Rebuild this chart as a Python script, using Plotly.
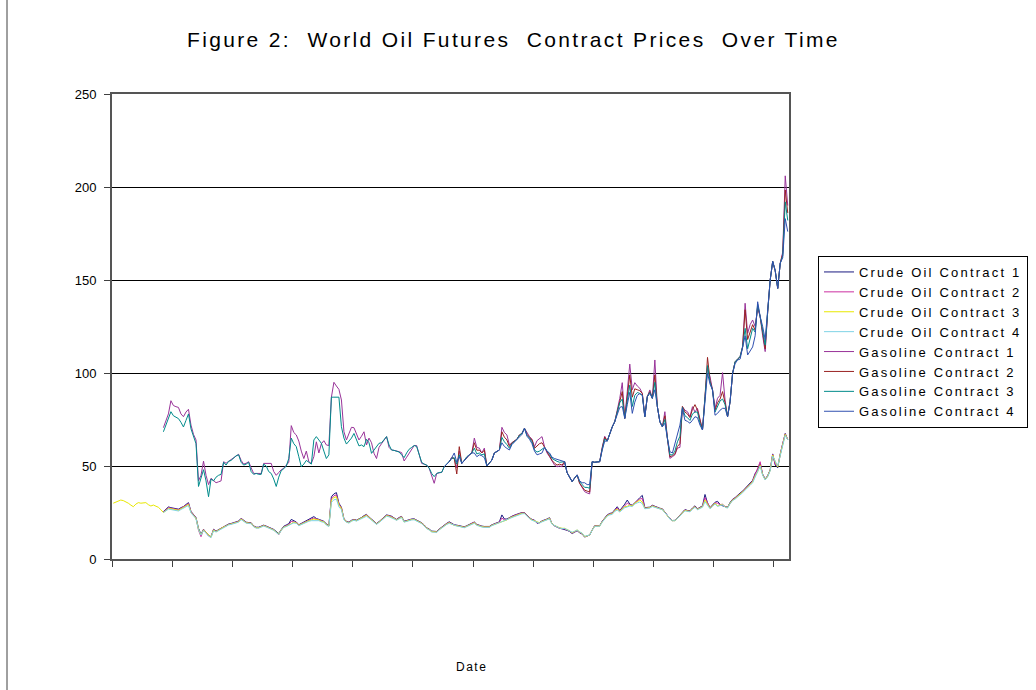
import plotly.graph_objects as go

# ---------------- data (monthly contract prices, category index 0..269) ----------------
months = list(range(270))

crude_3 = [
    30.0, 30.5, 31.2, 31.7, 31.4, 30.8, 30.0, 29.0, 28.1, 29.5,
    30.3, 30.0, 30.0, 30.3, 29.2, 28.5, 29.0, 28.4, 27.8, 26.5,
    25.0, 26.0, 27.2, 27.0, 26.7, 26.5, 26.2, 27.0, 27.6, 28.5,
    29.4, 25.0, 23.5, 21.9, 16.0, 12.9, 15.6, 14.3, 12.5, 11.7,
    15.6, 14.7, 15.5, 16.5, 17.2, 17.7, 18.5, 18.8, 19.2, 19.6,
    20.0, 21.5, 20.5, 19.5, 19.3, 19.2, 17.5, 16.8, 16.8, 17.4,
    17.9, 17.4, 17.0, 16.2, 15.6, 14.5, 13.4, 15.5, 17.2, 17.6,
    18.1, 19.0, 19.8, 19.5, 18.1, 18.8, 19.5, 20.0, 20.6, 21.0,
    21.5, 21.2, 21.0, 20.3, 20.0, 18.5, 17.7, 31.7, 33.0, 33.5,
    29.0, 27.2, 21.3, 20.0, 19.5, 20.5, 21.0, 20.6, 21.2, 21.9,
    22.8, 23.5, 22.3, 21.0, 20.0, 18.8, 19.8, 21.0, 22.0, 23.3,
    23.0, 22.6, 21.8, 21.0, 22.0, 22.6, 20.0, 20.5, 21.0, 21.2,
    21.3, 20.6, 20.0, 19.2, 18.0, 16.5, 15.8, 14.7, 14.6, 14.5,
    15.8, 16.8, 18.2, 18.8, 19.5, 18.8, 18.1, 17.9, 17.7, 17.2,
    17.0, 17.6, 18.1, 19.0, 19.5, 18.3, 17.7, 17.4, 17.2, 17.0,
    17.2, 18.1, 18.6, 19.2, 19.6, 20.0, 20.8, 21.0, 22.0, 22.6,
    23.2, 23.7, 24.2, 24.6, 24.6, 23.0, 21.9, 21.0, 20.6, 19.8,
    19.5, 20.2, 20.6, 21.2, 21.9, 18.8, 18.0, 17.2, 16.8, 16.5,
    16.5, 15.8, 15.2, 14.1, 14.8, 15.6, 14.5, 13.8, 12.0, 12.5,
    12.9, 15.5, 17.7, 17.7, 17.7, 20.0, 21.8, 23.3, 24.0, 24.3,
    26.0, 26.8, 25.6, 27.0, 28.1, 28.3, 29.0, 28.5, 30.0, 30.8,
    31.7, 30.6, 27.2, 27.4, 27.6, 28.5, 28.0, 27.2, 27.0, 26.7,
    25.0, 23.7, 21.5, 20.6, 20.6, 21.8, 23.3, 24.8, 26.2, 25.8,
    25.6, 27.0, 28.1, 26.7, 27.5, 28.1, 31.7, 29.5, 27.2, 28.5,
    30.0, 28.5, 29.0, 29.4, 28.0, 27.6, 30.0, 31.7, 32.5, 33.5,
    35.0, 36.0, 37.5, 38.5, 40.0, 41.5, 44.6, 47.0, 50.5, 45.2,
    42.7, 44.5, 47.7, 55.9, 52.3, 49.5, 56.0, 62.0, 67.0, 64.0,
]

crude_1 = [
    25.5, 26.8, 28.0, 27.6, 27.2, 27.0, 26.8, 27.6, 28.2, 29.3,
    30.3, 25.6, 24.0, 22.3, 16.5, 13.3, 16.0, 14.6, 12.8, 12.0,
    16.0, 15.0, 15.8, 16.8, 17.5, 18.0, 18.8, 19.1, 19.5, 19.9,
    20.4, 21.9, 20.8, 19.8, 19.6, 19.5, 17.8, 17.1, 17.1, 17.7,
    18.2, 17.7, 17.3, 16.5, 15.9, 14.8, 13.7, 15.8, 17.6, 18.3,
    19.0, 21.3, 20.5, 19.9, 18.4, 19.1, 19.9, 20.5, 21.3, 22.0,
    22.8, 21.8, 21.4, 20.6, 20.3, 18.8, 18.0, 33.5, 35.0, 35.7,
    30.0, 27.8, 21.6, 20.3, 19.8, 20.8, 21.3, 20.9, 21.5, 22.3,
    23.3, 24.0, 22.6, 21.3, 20.3, 19.1, 20.1, 21.3, 22.3, 23.7,
    23.4, 23.0, 22.1, 21.3, 22.3, 22.9, 20.3, 20.8, 21.3, 21.5,
    21.6, 20.9, 20.3, 19.5, 18.3, 16.8, 16.1, 15.0, 14.9, 14.8,
    16.1, 17.1, 18.5, 19.2, 20.0, 19.1, 18.4, 18.2, 18.0, 17.5,
    17.3, 17.9, 18.5, 19.4, 19.9, 18.6, 18.0, 17.7, 17.5, 17.3,
    17.5, 18.4, 18.9, 19.5, 20.0, 23.7, 21.5, 21.5, 22.4, 23.0,
    23.6, 24.1, 24.6, 25.0, 25.0, 23.3, 22.2, 21.3, 20.9, 19.2,
    19.6, 20.5, 20.9, 21.5, 22.2, 18.9, 17.8, 17.0, 16.5, 16.2,
    16.0, 15.4, 14.8, 13.7, 14.4, 15.2, 14.1, 13.4, 11.8, 12.3,
    12.9, 15.6, 17.9, 17.9, 17.9, 20.3, 22.1, 23.7, 24.5, 24.8,
    26.5, 28.1, 26.0, 27.6, 29.5, 31.7, 29.5, 28.9, 30.5, 31.5,
    33.0, 34.2, 27.6, 27.7, 27.9, 28.9, 28.3, 27.5, 27.3, 27.0,
    25.3, 24.0, 21.7, 20.7, 20.8, 22.1, 23.6, 25.2, 26.6, 26.1,
    25.9, 27.4, 28.6, 27.0, 27.9, 28.6, 34.7, 30.2, 27.6, 28.9,
    30.5, 31.0, 29.4, 28.6, 28.2, 27.8, 30.4, 32.1, 33.0, 34.0,
    35.5, 36.5, 38.0, 39.0, 40.6, 42.3, 46.0, 48.0, 51.2, 45.6,
    43.0, 44.8, 48.0, 56.5, 50.5, 49.0, 56.5, 62.5, 67.5, 64.0,
]

crude_2 = [
    25.3, 26.5, 27.6, 27.3, 27.0, 26.8, 26.5, 27.3, 27.9, 28.9,
    29.8, 25.3, 23.8, 22.0, 15.5, 12.0, 15.8, 14.4, 12.4, 11.8,
    15.8, 14.8, 15.6, 16.6, 17.3, 17.8, 18.6, 18.9, 19.3, 19.7,
    20.2, 21.7, 20.6, 19.6, 19.4, 19.3, 17.6, 16.9, 16.9, 17.5,
    18.0, 17.5, 17.1, 16.3, 15.7, 14.4, 13.0, 15.6, 17.3, 17.9,
    18.5, 20.2, 20.1, 19.7, 18.2, 18.9, 19.7, 20.2, 20.9, 21.5,
    22.0, 21.5, 21.2, 20.4, 20.1, 18.6, 17.8, 32.6, 34.0, 34.5,
    29.5, 27.5, 21.4, 20.1, 19.6, 20.6, 21.1, 20.7, 21.3, 22.0,
    23.0, 23.7, 22.4, 21.1, 20.1, 18.9, 19.9, 21.1, 22.1, 23.5,
    23.2, 22.8, 21.9, 21.1, 22.1, 22.7, 20.1, 20.6, 21.1, 21.3,
    21.4, 20.7, 20.1, 19.3, 18.1, 16.6, 15.9, 14.8, 14.7, 14.6,
    15.9, 16.9, 18.3, 19.0, 19.7, 18.9, 18.2, 18.0, 17.8, 17.3,
    17.1, 17.7, 18.2, 19.2, 19.7, 18.4, 17.8, 17.5, 17.3, 17.1,
    17.3, 18.2, 18.7, 19.3, 19.8, 22.0, 21.0, 21.2, 22.2, 22.8,
    23.4, 23.9, 24.4, 24.8, 24.8, 23.1, 22.0, 21.1, 20.7, 19.5,
    19.5, 20.3, 20.7, 21.3, 22.0, 18.8, 17.9, 17.1, 16.6, 16.3,
    16.2, 15.6, 15.0, 13.9, 14.6, 15.4, 14.3, 13.6, 11.9, 12.4,
    12.9, 15.5, 17.8, 17.8, 17.8, 20.1, 21.9, 23.5, 24.2, 24.5,
    26.2, 27.5, 25.8, 27.3, 28.8, 30.0, 29.2, 28.7, 30.2, 31.1,
    32.3, 32.5, 27.4, 27.5, 27.7, 28.7, 28.1, 27.3, 27.1, 26.8,
    25.1, 23.8, 21.6, 20.6, 20.7, 21.9, 23.4, 24.9, 26.4, 25.9,
    25.7, 27.2, 28.3, 26.8, 27.7, 28.3, 33.0, 29.8, 27.4, 28.7,
    30.2, 30.0, 29.2, 29.5, 28.1, 27.7, 30.2, 31.9, 32.8, 33.8,
    35.2, 36.2, 37.8, 38.8, 40.3, 42.0, 45.5, 48.5, 52.3, 45.4,
    42.8, 44.6, 47.9, 56.2, 51.0, 49.8, 56.3, 62.2, 67.3, 64.2,
]

crude_4 = [
    25.0, 25.8, 26.8, 26.6, 26.4, 26.2, 25.8, 26.6, 27.2, 28.0,
    28.8, 24.8, 23.2, 21.6, 15.8, 12.8, 15.4, 14.0, 12.3, 11.5,
    15.2, 14.5, 15.3, 16.3, 17.0, 17.5, 18.3, 18.6, 19.0, 19.4,
    19.8, 21.2, 20.3, 19.3, 19.1, 19.0, 17.3, 16.6, 16.6, 17.2,
    17.7, 17.2, 16.8, 16.0, 15.4, 14.3, 13.2, 15.3, 17.0, 17.4,
    17.9, 18.8, 19.4, 19.2, 17.9, 18.6, 19.2, 19.7, 20.3, 20.6,
    20.6, 20.8, 20.6, 20.0, 19.7, 18.2, 17.5, 30.5, 31.8, 32.2,
    28.0, 26.5, 21.0, 19.8, 19.3, 20.3, 20.8, 20.4, 21.0, 21.6,
    22.3, 23.0, 22.0, 20.8, 19.8, 18.6, 19.6, 20.8, 21.8, 23.0,
    22.7, 22.3, 21.5, 20.8, 21.7, 22.3, 19.8, 20.3, 20.8, 21.0,
    21.1, 20.4, 19.8, 19.0, 17.8, 16.3, 15.6, 14.5, 14.4, 14.3,
    15.6, 16.6, 18.0, 18.6, 19.2, 18.6, 17.9, 17.7, 17.5, 17.0,
    16.8, 17.4, 17.9, 18.7, 19.2, 18.1, 17.5, 17.2, 17.0, 16.8,
    17.0, 17.9, 18.4, 19.0, 19.4, 19.8, 20.5, 20.8, 21.7, 22.3,
    22.9, 23.4, 23.9, 24.3, 24.4, 22.8, 21.7, 20.8, 20.4, 19.6,
    19.3, 20.0, 20.4, 21.0, 21.6, 18.7, 17.9, 17.1, 16.7, 16.4,
    16.4, 15.8, 15.3, 14.4, 14.9, 15.6, 14.6, 13.9, 12.2, 12.6,
    12.9, 15.4, 17.5, 17.6, 17.6, 19.8, 21.5, 23.0, 23.7, 24.0,
    25.6, 26.3, 25.3, 26.6, 27.6, 28.0, 28.5, 28.2, 29.6, 30.2,
    30.6, 29.8, 27.0, 27.2, 27.4, 28.2, 27.8, 27.0, 26.8, 26.5,
    24.8, 23.5, 21.4, 20.6, 20.6, 21.7, 23.1, 24.5, 25.9, 25.6,
    25.4, 26.7, 27.8, 26.5, 27.2, 27.8, 30.8, 29.0, 27.0, 28.2,
    29.6, 28.3, 28.8, 29.2, 27.8, 27.4, 29.7, 31.4, 32.2, 33.2,
    34.6, 35.6, 37.1, 38.1, 39.6, 41.0, 44.0, 46.4, 50.0, 45.0,
    42.5, 44.2, 47.4, 55.3, 52.3, 50.0, 55.5, 61.5, 66.5, 64.0,
]

gasoline_1 = [
    70.6, 74.0, 78.0, 85.1, 82.5, 81.9, 81.5, 78.0, 76.5, 79.0,
    80.5, 72.0, 67.0, 64.0, 42.0, 45.0, 52.6, 45.0, 40.0, 43.4,
    42.0, 41.0, 41.5, 42.0, 52.3, 51.5, 52.5, 53.5, 54.5, 55.5,
    56.3, 53.0, 51.0, 51.5, 52.3, 49.0, 46.0, 46.0, 46.0, 46.0,
    51.4, 51.4, 51.4, 51.4, 47.0, 45.0, 46.5, 48.0, 48.8, 50.5,
    52.0, 71.7, 68.0, 66.7, 63.4, 58.0, 54.0, 58.0, 52.3, 51.4,
    55.0, 63.0, 57.0, 62.0, 63.6, 61.3, 61.0, 87.0, 95.0, 93.0,
    91.2, 85.5, 68.4, 64.0, 67.5, 70.8, 70.6, 67.0, 64.0, 66.0,
    68.4, 61.3, 65.0, 62.5, 56.8, 54.0, 60.0, 62.0, 64.0, 65.8,
    60.0, 58.6, 58.4, 58.2, 57.7, 57.2, 52.7, 54.7, 56.8, 59.0,
    61.0, 61.0, 56.0, 51.4, 51.0, 50.5, 48.8, 45.0, 40.7, 46.0,
    46.3, 46.6, 49.6, 51.0, 52.3, 54.5, 54.0, 49.0, 58.0, 51.4,
    53.0, 55.0, 56.0, 57.0, 65.0, 60.0, 59.6, 57.0, 59.6, 50.0,
    51.5, 53.2, 57.0, 58.0, 58.6, 70.8, 68.0, 66.7, 61.3, 62.5,
    63.5, 64.4, 66.7, 67.5, 70.3, 68.0, 65.8, 64.4, 60.4, 63.6,
    64.5, 65.8, 60.4, 57.0, 55.0, 52.3, 50.5, 49.6, 50.0, 49.6,
    52.3, 46.4, 44.0, 41.6, 43.5, 45.2, 40.7, 38.0, 36.2, 35.5,
    35.0, 52.3, 52.0, 52.2, 52.3, 60.0, 66.0, 63.4, 67.5, 71.0,
    73.8, 80.0, 86.4, 94.8, 75.6, 90.0, 104.8, 91.0, 94.8, 93.0,
    91.8, 89.0, 76.5, 87.3, 90.9, 86.4, 107.0, 81.9, 73.8, 71.1,
    79.2, 65.0, 54.1, 55.0, 56.0, 59.6, 60.0, 81.9, 80.0, 79.2,
    76.5, 81.9, 79.0, 81.0, 74.7, 69.4, 87.3, 103.0, 98.0, 90.9,
    81.0, 86.4, 88.0, 100.2, 85.5, 76.5, 84.6, 99.8, 106.0, 107.5,
    108.8, 114.1, 137.5, 121.3, 126.0, 128.5, 125.0, 135.0, 130.3, 120.0,
    111.5, 133.0, 150.0, 160.0, 155.0, 145.5, 159.0, 165.0, 206.0, 190.0,
]

gasoline_2 = [
    49.6, 51.0, 52.3, 54.5, 54.0, 45.7, 60.4, 51.4,
    53.0, 55.0, 56.0, 57.0, 62.5, 58.5, 58.5, 57.0, 58.5, 50.0,
    51.5, 53.2, 57.0, 58.0, 58.6, 68.4, 65.5, 64.0, 60.5, 62.5,
    63.5, 64.4, 66.7, 67.5, 70.3, 67.0, 65.5, 64.0, 59.5, 61.0,
    62.0, 62.5, 60.2, 57.5, 55.5, 53.0, 51.5, 50.5, 51.0, 50.5,
    52.3, 46.4, 44.0, 41.6, 43.5, 45.2, 40.7, 38.5, 37.0, 36.5,
    36.0, 52.3, 52.0, 52.2, 52.3, 59.5, 65.5, 63.4, 67.5, 71.0,
    73.8, 79.5, 85.0, 90.0, 75.6, 88.0, 99.0, 87.0, 91.5, 91.0,
    90.5, 89.0, 76.5, 87.3, 90.0, 86.4, 99.0, 81.9, 73.8, 71.1,
    77.0, 65.0, 55.0, 55.5, 56.5, 60.5, 62.0, 82.0, 79.0, 78.0,
    76.0, 80.5, 83.0, 80.0, 74.0, 69.4, 87.3, 108.4, 96.0, 90.9,
    80.0, 84.0, 86.0, 90.0, 84.0, 76.5, 84.6, 99.8, 106.0, 107.5,
    108.8, 114.1, 134.0, 118.0, 122.0, 126.0, 123.0, 136.0, 130.3, 121.0,
    113.0, 133.0, 150.0, 160.0, 155.0, 145.5, 159.0, 164.0, 198.4, 186.0,
]

gasoline_3 = [
    68.4, 72.0, 76.0, 79.2, 77.0, 76.0, 75.5, 73.5, 71.0, 74.5,
    78.0, 70.0, 66.0, 62.0, 39.0, 44.0, 48.0, 42.0, 33.5, 43.0,
    42.0, 44.0, 45.0, 45.5, 52.0, 50.5, 52.5, 53.0, 54.5, 55.5,
    56.0, 52.0, 50.5, 51.0, 52.0, 47.0, 45.5, 46.0, 45.5, 45.5,
    51.0, 50.0, 47.0, 46.0, 43.0, 39.0, 44.0, 47.5, 48.5, 50.0,
    54.0, 65.0, 62.0, 60.4, 55.0, 49.6, 51.0, 53.0, 52.0, 51.0,
    64.0, 65.8, 64.0, 62.2, 58.0, 54.0, 56.0, 87.0, 87.0, 87.0,
    87.0, 71.1, 65.0, 61.8, 63.5, 65.0, 67.5, 64.0, 60.8, 61.3,
    60.4, 64.4, 62.5, 56.8, 58.6, 60.5, 62.2, 62.5, 64.0, 65.8,
    61.3, 58.6, 58.4, 58.0, 57.5, 56.0, 54.5, 57.0, 59.0, 60.0,
    61.0, 60.5, 56.0, 52.0, 51.0, 50.5, 48.8, 46.0, 44.3, 46.0,
    46.5, 46.6, 49.6, 51.0, 52.3, 54.0, 54.5, 51.0, 56.0, 51.4,
    53.0, 55.0, 56.0, 57.0, 59.6, 56.5, 57.0, 56.0, 56.5, 50.0,
    51.5, 53.2, 57.0, 58.0, 58.6, 65.4, 63.0, 61.5, 59.5, 62.0,
    63.5, 64.4, 66.5, 67.5, 70.3, 66.5, 65.0, 63.0, 58.6, 57.5,
    58.0, 59.0, 60.0, 58.0, 56.5, 54.0, 53.0, 52.5, 52.0, 52.0,
    52.3, 46.4, 44.0, 41.6, 43.5, 45.2, 41.5, 40.0, 38.5, 38.5,
    38.0, 52.3, 52.0, 52.2, 52.3, 59.0, 64.5, 63.4, 67.5, 71.0,
    73.8, 79.0, 84.0, 86.0, 75.6, 85.0, 93.5, 82.0, 88.0, 89.5,
    89.0, 88.0, 76.5, 87.3, 89.5, 86.4, 95.0, 81.9, 73.8, 71.1,
    75.0, 65.0, 56.0, 56.0, 58.0, 63.0, 66.0, 81.5, 77.0, 76.0,
    74.5, 78.0, 79.0, 79.0, 73.0, 69.4, 87.3, 104.0, 95.0, 90.9,
    79.0, 82.0, 85.0, 86.0, 83.0, 76.5, 84.6, 99.8, 106.0, 107.5,
    108.8, 114.1, 124.0, 113.0, 118.0, 124.0, 122.0, 137.0, 130.3, 123.0,
    115.0, 133.0, 150.0, 160.0, 155.0, 145.5, 159.0, 163.0, 192.0, 182.0,
]

gasoline_4 = [
    49.6, 51.0, 52.3, 54.5, 57.0, 52.0, 55.0, 51.4,
    53.0, 55.0, 56.0, 57.0, 57.0, 55.0, 56.0, 55.5, 54.5, 50.0,
    51.5, 53.2, 57.0, 58.0, 58.6, 62.5, 60.5, 59.5, 58.6, 61.5,
    63.0, 64.0, 66.0, 67.0, 70.3, 66.0, 64.4, 62.0, 58.0, 56.0,
    56.5, 57.0, 60.0, 58.0, 57.0, 54.7, 54.0, 53.6, 53.0, 52.5,
    52.3, 46.4, 44.0, 41.6, 43.5, 45.2, 42.0, 41.0, 41.0, 40.0,
    40.0, 52.3, 52.0, 52.2, 52.3, 58.5, 63.4, 63.4, 67.5, 71.0,
    73.8, 78.0, 81.5, 82.0, 75.6, 83.0, 89.6, 78.3, 84.3, 88.0,
    88.9, 88.0, 76.5, 87.3, 89.0, 86.4, 91.0, 81.9, 73.8, 71.1,
    73.0, 65.0, 57.7, 57.0, 62.0, 67.5, 72.0, 81.0, 74.6, 74.0,
    73.0, 74.6, 76.5, 76.0, 72.0, 69.4, 87.3, 100.0, 94.0, 90.9,
    77.3, 78.3, 80.0, 81.0, 81.0, 76.5, 84.6, 99.8, 105.0, 107.0,
    107.5, 113.0, 120.0, 109.7, 112.0, 114.0, 120.0, 138.3, 130.3, 125.0,
    118.0, 133.0, 150.0, 160.0, 155.0, 145.5, 159.0, 162.0, 183.0, 176.0,
]

series_names = [
    "Crude Oil Contract 1", "Crude Oil Contract 2", "Crude Oil Contract 3", "Crude Oil Contract 4",
    "Gasoline Contract 1", "Gasoline Contract 2", "Gasoline Contract 3", "Gasoline Contract 4",
]
y_ticks = [0, 50, 100, 150, 200, 250]
x_tick_bounds = [-0.5 + 24 * k for k in range(12)]

title_text = "Figure 2:\u00a0 World Oil Futures\u00a0 Contract Prices\u00a0 Over Time"
x_title = "Date"

# ---------------- figure ----------------
colors = ["#1a1a80", "#cc2fa0", "#e8e800", "#7fd3e6",
          "#993399", "#992222", "#008b8b", "#3050b0"]

series = [
    (months[20:], crude_1), (months[20:], crude_2), (months, crude_3), (months[20:], crude_4),
    (months[20:], gasoline_1), (months[132:], gasoline_2), (months[20:], gasoline_3), (months[132:], gasoline_4),
]


def spaced(text, ls):
    return '<span style="letter-spacing:%spx">%s</span>' % (ls, text)


fig = go.Figure()
for (xs, ys), name, c in zip(series, series_names, colors):
    fig.add_trace(go.Scatter(x=xs, y=ys, name=spaced(name, 2.2), mode="lines",
                             line=dict(color=c, width=1)))

W, H = 1036, 690
L, R, T, B = 112, 789, 94, 559  # plot area in page pixels


def px(xp):
    return (xp - L) / (R - L)


def py(yp):
    return (B - yp) / (B - T)


FONT = "Liberation Sans, Arial, sans-serif"

fig.update_layout(
    width=W, height=H, autosize=False,
    margin=dict(l=L, r=W - R, t=T, b=H - B, pad=0, autoexpand=False),
    paper_bgcolor="white", plot_bgcolor="white",
    font=dict(family=FONT, size=13, color="black"),
    showlegend=True,
    legend=dict(
        xref="container", yref="container",
        x=818 / W, y=1 - 256 / H, xanchor="left", yanchor="top",
        bordercolor="black", borderwidth=1, bgcolor="white",
        font=dict(family=FONT, size=13, color="black"),
        traceorder="normal", itemwidth=30,
    ),
    xaxis=dict(
        range=[-0.5, 269.5], showgrid=False, zeroline=False,
        showline=True, linecolor="#555555", linewidth=2, mirror=True,
        ticks="outside", ticklen=6, tickcolor="#404040", tickwidth=1,
        tickvals=x_tick_bounds, showticklabels=False,
    ),
    yaxis=dict(
        range=[0, 250], tickvals=y_ticks, ticktext=[str(v) for v in y_ticks],
        showgrid=True, gridcolor="black", gridwidth=1, zeroline=False,
        showline=True, linecolor="#555555", linewidth=2, mirror=True,
        ticks="outside", ticklen=6, tickcolor="#404040", tickwidth=1,
        ticklabelstandoff=5,
        tickfont=dict(family=FONT, size=13, color="black"),
    ),
    shapes=[
        dict(type="line", xref="paper", yref="paper",
             x0=px(7), x1=px(7), y0=py(700), y1=py(-10),
             line=dict(color="#404040", width=1)),
    ],
    annotations=[
        dict(text=spaced(title_text, 2.35), xref="paper", yref="paper", x=px(513), y=py(40),
             xanchor="center", yanchor="middle", showarrow=False,
             font=dict(family=FONT, size=21, color="black")),
        dict(text=spaced(x_title, 1.5), xref="paper", yref="paper", x=px(471), y=py(667),
             xanchor="center", yanchor="middle", showarrow=False,
             font=dict(family=FONT, size=12, color="black")),
    ],
)

fig.write_html("out.html", config={"displayModeBar": False},
               post_script="document.body.style.margin='0';document.body.style.overflow='hidden';")
